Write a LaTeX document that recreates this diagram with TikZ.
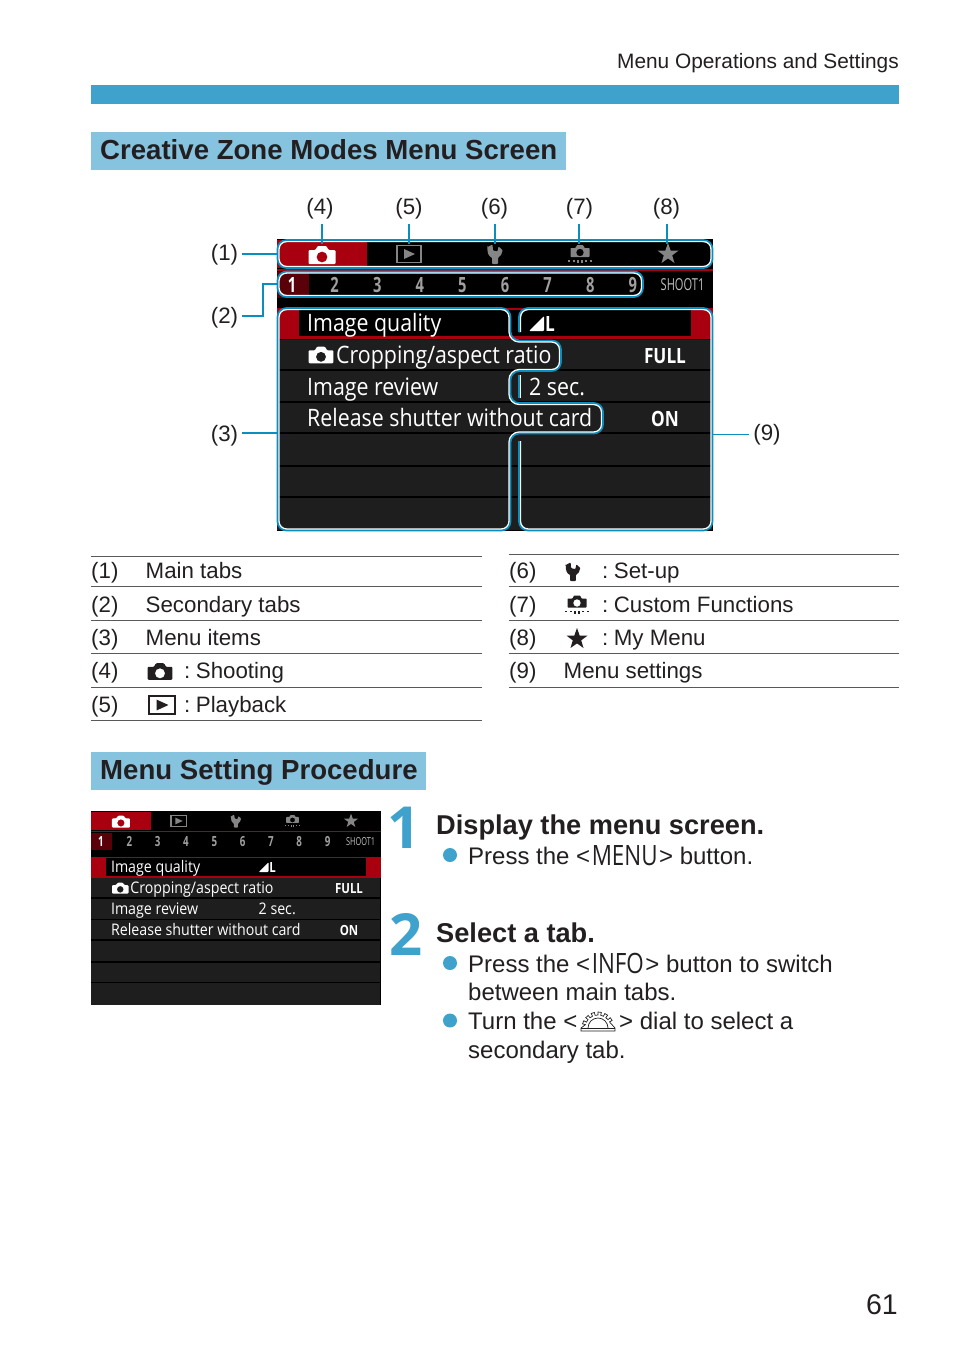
\documentclass[tikz,border=0pt]{standalone}
\usepackage{fontspec}
\setmainfont{Liberation Sans}
\newfontfamily\screenfont{Open Sans}
\usetikzlibrary{calc}

\definecolor{barblue}{HTML}{3FA2CC}
\definecolor{headblue}{HTML}{86C3DF}
\definecolor{calloutblue}{HTML}{0A8DBF}
\definecolor{inktext}{HTML}{231F20}
\definecolor{rulegray}{HTML}{58595B}
\definecolor{tabred}{HTML}{A8000F}
\definecolor{tabdark}{HTML}{5A0008}
\definecolor{rowgray}{HTML}{1E1E1E}
\definecolor{tabgray}{HTML}{858585}
\definecolor{digitgray}{HTML}{A0A0A0}

\newcommand{\bodyfont}{\fontsize{22.3}{27}\selectfont}
\newcommand{\procfont}{\fontsize{24}{28}\selectfont}
\newcommand{\headfont}{\fontsize{27.6}{32}\selectfont\bfseries}
\newcommand{\stepfont}{\fontsize{27.2}{32}\selectfont\bfseries}
\newcommand{\keyname}[1]{\hspace{1.5pt}\raisebox{-1.5pt}{\scalebox{.8}[1]{\fontsize{28}{30}\screenfont #1}}\hspace{1.5pt}}

\newcommand{\glowpath}[1]{%
    \begin{scope}
        \clip[rounded corners=9pt] #1;
        \draw[white,line width=4.4pt,rounded corners=9pt] #1;
    \end{scope}
    \draw[calloutblue,line width=1.7pt,rounded corners=9pt] #1;
}

\tikzset{
    bodytext/.style={font=\bodyfont,text=inktext,anchor=base west,inner sep=0pt},
    proctext/.style={font=\procfont,text=inktext,anchor=base west,inner sep=0pt},
    headtext/.style={font=\headfont,text=inktext,anchor=base west,inner sep=0pt},
    steptext/.style={font=\stepfont,text=inktext,anchor=base west,inner sep=0pt},
    stepnum/.style={font=\fontsize{58}{58}\selectfont\screenfont\bfseries,text=barblue,anchor=base west,inner sep=0pt},
    calloutlabel/.style={font=\bodyfont,text=inktext,inner sep=4pt},
    callout/.style={calloutblue,line width=1.6pt},
    tablerule/.style={rulegray,line width=1pt},
    stepbullet/.style={barblue,fill=barblue},
    menutext/.style={transform shape,font=\fontsize{24}{28}\screenfont,text=white,anchor=base west,inner sep=0pt,xscale=.89},
    menuvalue/.style={transform shape,font=\fontsize{21}{24}\screenfont\bfseries,text=white,anchor=base,inner sep=0pt,xscale=.82},
    tabdigit/.style={transform shape,font=\fontsize{21}{24}\screenfont\bfseries,text=#1,inner sep=0pt,xscale=.7},
    camicon/.pic={
        \fill[even odd rule,rounded corners=1pt] (-13.5,9) -- (-13.5,-5) -- (-6.5,-5) -- (-4.5,-9) -- (4.5,-9) -- (6.5,-5) -- (13.5,-5) -- (13.5,9) -- cycle
            (0,2) circle (5.5);
    },
    playicon/.pic={
        \draw[line width=1.4pt] (-12,-8.5) rectangle (12,8.5);
        \fill (-5,-5) -- (6,0) -- (-5,5) -- cycle;
    },
    wrenchicon/.pic={
        \fill[rounded corners=.8pt] (-7.5,-7) -- (-2.5,-9.5) -- (-2,-3.5) -- (2.5,-2.5) -- (3.5,-7.5) -- (7.5,-4) .. controls (7.5,0) and (5,2.5) .. (3,3.5) -- (3,10) -- (-3,10) -- (-3,3.5) .. controls (-6,2.5) and (-8,-1) .. cycle;
    },
    customicon/.pic={
        \fill[even odd rule,rounded corners=.6pt] (-9.5,3) -- (-9.5,-6) -- (-4.5,-6) -- (-3,-9) -- (3,-9) -- (4.5,-6) -- (9.5,-6) -- (9.5,3) -- cycle
            (0,-1.5) circle (3.8);
        \foreach \tickx/\ticklen in {-11/1.5,-6/1.5,-2/3,2/3,6/1.5,11/1.5}
            \fill (\tickx-.6,6) rectangle (\tickx+.6,6+\ticklen);
    },
    staricon/.pic={
        \fill (0,-11) -- (2.7,-3.4) -- (10.5,-3.4) -- (4.2,1.4) -- (6.5,9) -- (0,4.4) -- (-6.5,9) -- (-4.2,1.4) -- (-10.5,-3.4) -- (-2.7,-3.4) -- cycle;
    },
    dialicon/.pic={
        \draw[line width=.7pt,line join=miter] (-17,3) -- (-17,0)
            \foreach \toothangle in {-165,-140,...,-25}{
                -- (\toothangle:13) -- (\toothangle:16) -- (\toothangle+12:16) -- (\toothangle+12:13)
            } -- (17,0) -- (17,3) -- cycle;
        \draw[line width=.7pt] (-10,0) arc (180:360:10);
        \draw[line width=.7pt] (-17,0) -- (17,0);
    },
    menuscreen/.pic={
        \fill[black] (0,0) rectangle (436,292);
        \fill[tabred] (0,1) rectangle (90,29);
        \fill[tabred] (0,30) rectangle (436,32);
        \fill[tabdark] (0,33) rectangle (32,59);
        \pic[color=white,transform shape] at (45,16) {camicon};
        \pic[color=tabgray,transform shape] at (132,15) {playicon};
        \pic[color=tabgray,transform shape] at (218,15) {wrenchicon};
        \pic[color=tabgray,transform shape] at (303,15) {customicon};
        \pic[color=tabgray,transform shape] at (391,15) {staricon};
        \node[tabdigit=white] (digit1) at (15,46) {1};
        \foreach \tabnum [evaluate=\tabnum as \digitx using 15+42.6*(\tabnum-1)] in {2,...,9}
            \node[tabdigit=digitgray] (digit\tabnum) at (\digitx,46) {\tabnum};
        \node[tabdigit=lightgray,font=\fontsize{16.5}{20}\screenfont,xscale=.96] (tabname) at (405.5,46) {SHOOT1};
        \fill[tabred] (0,69) rectangle (436,100);
        \fill[black] (22,71) rectangle (414,97);
        \fill[rowgray] (0,101) rectangle (434.5,291);
        \foreach \rowline in {131,163,194,227,258}
            \draw[black,line width=1.4pt] (0,\rowline) -- (436,\rowline);
        \node[menutext] (itemquality) at (30,92) {Image quality};
        \pic[color=white,scale=.92,transform shape] at (44,116) {camicon};
        \node[menutext] (itemcrop) at (59,124) {Cropping/aspect ratio};
        \node[menutext] (itemreview) at (30,156) {Image review};
        \node[menutext] (itemrelease) at (30,187) {Release shutter without card};
        \fill[white,rounded corners=1pt] (252,92) -- (267,92) -- (267,77) -- cycle;
        \node[menuvalue,anchor=base west] (valquality) at (268,92) {L};
        \node[menuvalue] (valcrop) at (388,124) {FULL};
        \node[menutext] (valreview) at (252,156) {2 sec.};
        \node[menuvalue] (valrelease) at (388,187) {ON};
    }
}

\begin{document}
\begin{tikzpicture}[x=1pt,y=-1pt]
    \useasboundingbox (0,0) rectangle (954,1345);

    \node[bodytext,anchor=base east,font=\fontsize{20.85}{25}\selectfont] (pagehead) at (899,68.5) {Menu Operations and Settings};
    \fill[barblue] (91,85) rectangle (899,104);

    \fill[headblue] (91,132) rectangle (566,170);
    \node[headtext] (headzone) at (100,159.5) {Creative Zone Modes Menu Screen};

    \pic (big) at (277,239) {menuscreen};

    % outlines round the parts of the screen
    \glowpath{(277.5,240) rectangle (712.5,268)}
    \glowpath{(277.5,271.5) rectangle (643,297)}
    \glowpath{(277.5,308) -- (510.5,308) -- (510.5,340.5) -- (561,340.5) -- (561,371) -- (510.5,371) -- (510.5,403) -- (603,403) -- (603,433.5) -- (510.5,433.5) -- (510.5,530.5) -- (277.5,530.5) -- cycle}
    \glowpath{(519,332) -- (519,308) -- (712.5,308) -- (712.5,530.5) -- (519,530.5) -- (519,441)}
    \draw[white,line width=1.2pt] (520.2,375) -- (520.2,398);
    \draw[calloutblue,line width=1.2pt] (519,375) -- (519,398);

    \coordinate (tabsleft) at (277,254);
    \coordinate (subtabsleft) at (277,284);
    \coordinate (itemsleft) at (277,433);
    \coordinate (settingsright) at (713,434);
    \coordinate (subtabsbend) at (263,316);
    \coordinate (tabcam) at (322,244);
    \coordinate (tabplay) at (409,244);
    \coordinate (tabwrench) at (495,244);
    \coordinate (tabcustom) at (579,244);
    \coordinate (tabstar) at (667,244);

    \node[calloutlabel] (lab1) at (224.5,255) {(1)};
    \node[calloutlabel] (lab2) at (224.5,318) {(2)};
    \node[calloutlabel] (lab3) at (224.5,435.5) {(3)};
    \node[calloutlabel] (lab4) at (320,209) {(4)};
    \node[calloutlabel] (lab5) at (409,209) {(5)};
    \node[calloutlabel] (lab6) at (494.5,209) {(6)};
    \node[calloutlabel] (lab7) at (579.5,209) {(7)};
    \node[calloutlabel] (lab8) at (666.5,209) {(8)};
    \node[calloutlabel] (lab9) at (767,435) {(9)};

    \draw[callout] (lab1.east |- tabsleft) -- (tabsleft);
    \draw[callout] (lab2.east |- subtabsbend) -- (subtabsbend) |- (subtabsleft);
    \draw[callout] (lab3.east |- itemsleft) -- (itemsleft);
    \draw[callout] (tabcam |- lab4.south) -- (tabcam);
    \draw[callout] (tabplay |- lab5.south) -- (tabplay);
    \draw[callout] (tabwrench |- lab6.south) -- (tabwrench);
    \draw[callout] (tabcustom |- lab7.south) -- (tabcustom);
    \draw[callout] (tabstar |- lab8.south) -- (tabstar);
    \draw[callout,line width=1pt] (settingsright) -- (lab9.west |- settingsright);

    % tables below the screen
    \foreach \ruley in {556,586,620,653,687,720}
        \draw[tablerule] (91,\ruley) -- (482,\ruley);
    \foreach \ruley in {554,586,620,653,687}
        \draw[tablerule] (509,\ruley) -- (899,\ruley);

    \foreach \rownum/\rowy/\rowtext in {1/578/Main tabs,2/612/Secondary tabs,3/645.5/Menu items}{
        \node[bodytext] (num\rownum) at (91,\rowy) {(\rownum)};
        \node[bodytext] (txt\rownum) at (145.5,\rowy) {\rowtext};
    }
    \node[bodytext] (num4) at (91,678.5) {(4)};
    \pic[color=inktext,scale=.92] at (160,671.5) {camicon};
    \node[bodytext] (txt4) at (184,678.5) {:\hspace{5.5pt}Shooting};
    \node[bodytext] (num5) at (91,712) {(5)};
    \pic[color=inktext,scale=1.08] at (162,705) {playicon};
    \node[bodytext] (txt5) at (184,712) {:\hspace{5.5pt}Playback};

    \node[bodytext] (num6) at (509,578) {(6)};
    \pic[color=inktext,scale=.95] at (573,571.5) {wrenchicon};
    \node[bodytext] (txt6) at (602,578) {:\hspace{5.5pt}Set-up};
    \node[bodytext] (num7) at (509,612) {(7)};
    \pic[color=inktext] at (577,604.5) {customicon};
    \node[bodytext] (txt7) at (602,612) {:\hspace{5.5pt}Custom Functions};
    \node[bodytext] (num8) at (509,645.5) {(8)};
    \pic[color=inktext] at (577,639) {staricon};
    \node[bodytext] (txt8) at (602,645.5) {:\hspace{5.5pt}My Menu};
    \node[bodytext] (num9) at (509,678.5) {(9)};
    \node[bodytext] (txt9) at (563.5,678.5) {Menu settings};

    % procedure
    \fill[headblue] (91,752) rectangle (426,790);
    \node[headtext] (headproc) at (100,779.5) {Menu Setting Procedure};

    \pic[scale=.665] (small) at (91,811) {menuscreen};

    \node[stepnum] (stepone) at (387,848) {1};
    \node[steptext] (titleone) at (436,834.5) {Display the menu screen.};
    \fill[stepbullet] (450,855) circle (7);
    \node[proctext] (pressmenu) at (468,864) {Press the <\keyname{MENU}> button.};

    \node[stepnum] (steptwo) at (389,955) {2};
    \node[steptext] (titletwo) at (436,942.5) {Select a tab.};
    \fill[stepbullet] (450,963) circle (7);
    \node[proctext] (pressinfo) at (468,972) {Press the <\keyname{INFO}> button to switch};
    \node[proctext] (mainline) at (468,1000) {between main tabs.};
    \fill[stepbullet] (450,1020.5) circle (7);
    \node[proctext] (turnline) at (468,1029) {Turn the <};
    \pic[color=inktext] at (598,1028) {dialicon};
    \node[proctext] (dialline) at (619,1029) {> dial to select a};
    \node[proctext] (secondline) at (468,1058) {secondary tab.};

    \node[bodytext,anchor=base east,font=\fontsize{28.5}{32}\selectfont] (pagenum) at (898,1314) {61};
\end{tikzpicture}
\end{document}
